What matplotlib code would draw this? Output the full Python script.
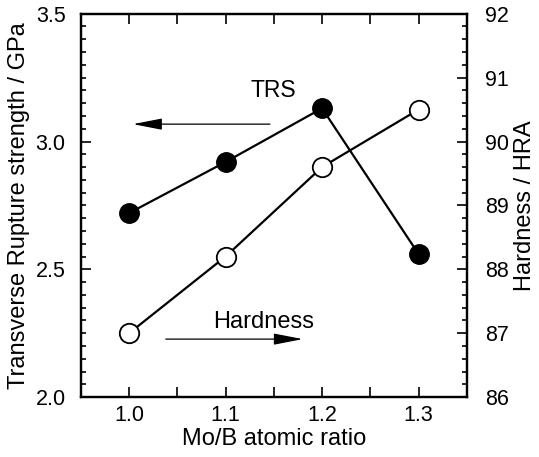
import matplotlib
matplotlib.use("Agg")
import matplotlib.pyplot as plt
from matplotlib.ticker import MultipleLocator

plt.rcParams['font.family'] = ['Liberation Sans', 'DejaVu Sans']

# data
ratio = [1.0, 1.1, 1.2, 1.3]
trs = [2.72, 2.92, 3.13, 2.56]          # GPa, left axis
hardness = [87.0, 88.2, 89.6, 90.5]     # HRA, right axis

fs_tick = 15.5
fs_lab = 17

fig = plt.figure(figsize=(5.39, 4.57), dpi=100)
ax = fig.add_axes([0.150, 0.131, 0.716, 0.839])
ax2 = ax.twinx()

ax.plot(ratio, trs, color='black', lw=1.6, marker='o', ms=14,
        mfc='black', mec='black', zorder=3)
ax2.plot(ratio, hardness, color='black', lw=1.6, marker='o', ms=14,
         mfc='white', mec='black', mew=1.3, zorder=3)

ax.set_xlim(0.95, 1.35)
ax.set_ylim(2.0, 3.5)
ax2.set_ylim(86, 92)

ax.xaxis.set_major_locator(MultipleLocator(0.1))
ax.xaxis.set_minor_locator(MultipleLocator(0.05))
ax.yaxis.set_major_locator(MultipleLocator(0.5))
ax.yaxis.set_minor_locator(MultipleLocator(0.05))
ax2.yaxis.set_major_locator(MultipleLocator(1))
ax2.yaxis.set_minor_locator(MultipleLocator(0.2))
ax.xaxis.set_major_formatter(plt.FuncFormatter(lambda v, p: "%.1f" % v))
ax.yaxis.set_major_formatter(plt.FuncFormatter(lambda v, p: "%.1f" % v))

ax.tick_params(axis='x', which='both', direction='in', top=True, length=7,
               width=1.2, labelsize=fs_tick, pad=6)
ax.tick_params(axis='y', which='major', direction='in', length=7, width=1.2,
               labelsize=fs_tick, pad=11)
ax.tick_params(axis='y', which='minor', direction='in', length=3.5, width=1.2)
ax2.tick_params(axis='y', which='major', direction='in', length=7, width=1.2,
                labelsize=fs_tick, pad=13)
ax2.tick_params(axis='y', which='minor', direction='in', length=3.5, width=1.2)

for a in (ax, ax2):
    for s in a.spines.values():
        s.set_linewidth(1.6)

ax.set_xlabel("Mo/B atomic ratio", fontsize=fs_lab, labelpad=1)
ax.set_ylabel("Transverse Rupture strength / GPa", fontsize=fs_lab, labelpad=4)
ax2.set_ylabel("Hardness / HRA", fontsize=fs_lab, labelpad=4)

# arrows pointing to the axis each series belongs to
ax.annotate("", xy=(1.004, 3.068), xytext=(1.146, 3.068),
            arrowprops=dict(arrowstyle="-|>,head_length=1.8,head_width=0.35",
                            color='black', lw=0.9, shrinkA=0, shrinkB=0))
ax.text(1.15, 3.20, "TRS", fontsize=16.5, ha='center', va='center')
ax.annotate("", xy=(1.180, 2.227), xytext=(1.038, 2.227),
            arrowprops=dict(arrowstyle="-|>,head_length=1.8,head_width=0.35",
                            color='black', lw=0.9, shrinkA=0, shrinkB=0))
ax.text(1.139, 2.294, "Hardness", fontsize=fs_lab, ha='center', va='center')

fig.savefig("out.png", dpi=100)
